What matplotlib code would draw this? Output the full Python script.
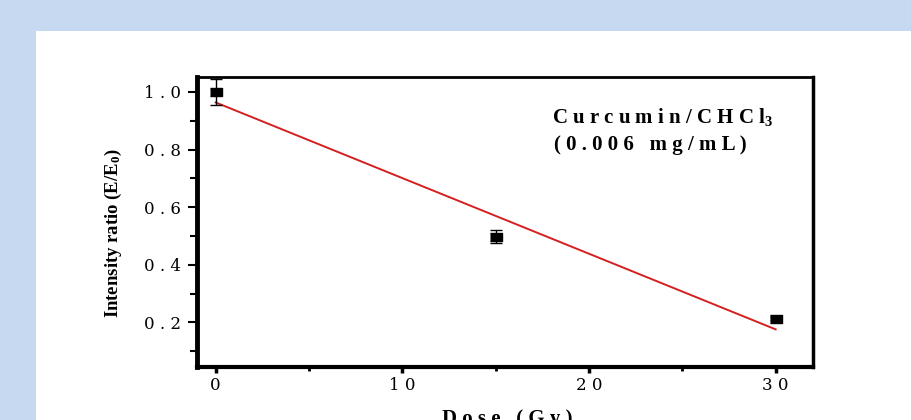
# Intensity ratio vs dose, curcumin in chloroform
import numpy as np
import matplotlib.pyplot as plt
from matplotlib.patches import Rectangle
from matplotlib.ticker import MultipleLocator

dose = [0, 15, 30]
ratio = [1.0, 0.497, 0.212]
ratio_err = [0.045, 0.023, 0.005]

xticks = [0, 10, 20, 30]
yticks = [0.2, 0.4, 0.6, 0.8, 1.0]

# linear fit through the measured points
slope, intercept = np.polyfit(dose, ratio, 1)
fit_x = np.array([0, 30])
fit_y = slope * fit_x + intercept


def spaced(s, gap=' '):
    # the source picture is stretched sideways, so letters sit apart
    return gap.join(s)


plt.rcParams['mathtext.fontset'] = 'custom'
plt.rcParams['mathtext.rm'] = 'Liberation Serif:bold'
plt.rcParams['mathtext.default'] = 'rm'

fig = plt.figure(figsize=(9.11, 4.20), dpi=100)
fig.patch.set_facecolor('#c6d9f0')
panel = Rectangle((36 / 911, 0), 1, (420 - 31) / 420,
                  transform=fig.transFigure, facecolor='white',
                  edgecolor='none', zorder=-10)
fig.add_artist(panel)

ax = fig.add_axes([0.2162, 0.1262, 0.6762, 0.6905])
ax.set_zorder(1)
ax.plot(fit_x, fit_y, color='#d42020', lw=1.4, zorder=2)
wide_box = [(-1.5, -1), (1.5, -1), (1.5, 1), (-1.5, 1)]
ax.errorbar(dose, ratio, yerr=ratio_err, fmt='none', ecolor='black',
            elinewidth=1.0, capsize=4, capthick=1.0, zorder=3)
ax.plot(dose, ratio, linestyle='none', marker=wide_box, ms=9,
        color='black', zorder=4)

ax.set_xlim(-1, 32)
ax.set_ylim(0.045, 1.052)
ax.set_xticks(xticks)
ax.set_xticklabels([spaced(str(v)) for v in xticks])
ax.set_yticks(yticks)
ax.set_yticklabels([spaced(f'{v:.1f}') for v in yticks])
ax.xaxis.set_minor_locator(MultipleLocator(5))
ax.yaxis.set_minor_locator(MultipleLocator(0.1))

ax.spines['left'].set_linewidth(3.5)
ax.spines['bottom'].set_linewidth(3)
ax.spines['top'].set_linewidth(2)
ax.spines['right'].set_linewidth(2.5)

ax.tick_params(axis='y', which='major', direction='out', length=6.5,
               width=1.5, labelsize=12, pad=5)
ax.tick_params(axis='y', which='minor', direction='out', length=5, width=1.5)
ax.tick_params(axis='x', which='major', direction='out', length=4,
               width=2.5, labelsize=12, pad=3)
ax.tick_params(axis='x', which='minor', direction='out', length=3, width=2)
for lab in ax.get_xticklabels() + ax.get_yticklabels():
    lab.set_family('DejaVu Serif')

ax.set_xlabel(spaced('Dose (Gy)'), family='Liberation Serif',
              fontweight='bold', fontsize=15, va='center')
ax.xaxis.set_label_coords(0.503, -0.18)
ax.set_ylabel('Intensity ratio (E/E$_0$)', family='Liberation Serif',
              fontweight='bold', fontsize=13.5, va='center')
ax.yaxis.set_label_coords(-0.136, 0.462)

ax.text(23.96, 0.913, spaced('Curcumin/CHCl') + '$_3$',
        family='Liberation Serif', fontweight='bold', fontsize=15,
        ha='center', va='center')
ax.text(23.3, 0.816, spaced('(0.006') + '   ' + spaced('mg/mL)'),
        family='Liberation Serif', fontweight='bold', fontsize=15,
        ha='center', va='center')

plt.savefig('out.png', dpi=100, facecolor=fig.get_facecolor())
